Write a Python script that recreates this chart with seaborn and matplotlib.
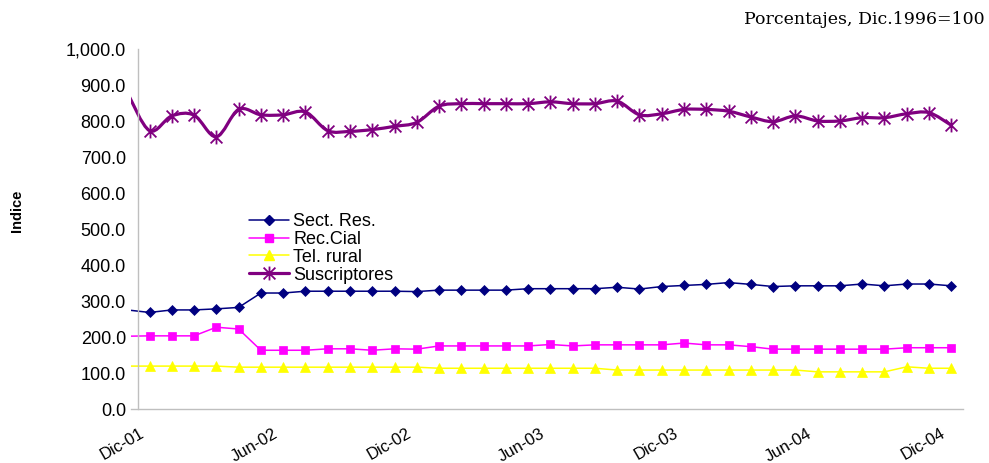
import numpy as np
import pandas as pd
import matplotlib
matplotlib.use("Agg")
import matplotlib.pyplot as plt
import matplotlib.transforms as mtransforms
from matplotlib.path import Path
from matplotlib.patches import PathPatch
from matplotlib.lines import Line2D
from matplotlib.ticker import FuncFormatter
import seaborn as sns

# Datos mensuales (indice, Dic.1996=100), primer valor = mes anterior a Dic-01
sect_res = [276, 269, 276, 276, 279, 283, 323, 323, 328, 328, 328, 328, 328, 327,
            331, 331, 331, 331, 335, 335, 335, 335, 339, 334, 341, 344,
            347, 352, 347, 341, 343, 343, 343, 348, 343, 348, 348, 343]
rec_cial = [203, 204, 204, 204, 228, 223, 164, 164, 164, 168, 168, 164, 168, 167,
            176, 176, 176, 176, 176, 180, 176, 179, 179, 179, 179, 184,
            179, 179, 174, 167, 167, 167, 167, 167, 167, 171, 171, 171]
tel_rural = [120, 120, 120, 120, 120, 117, 117, 117, 117, 117, 117, 117, 117, 117,
             114, 114, 114, 114, 114, 114, 114, 114, 109, 109, 109, 109,
             109, 109, 109, 109, 109, 104, 104, 104, 104, 118, 114, 114]
suscriptores = [880, 774, 815, 817, 757, 833, 818, 818, 826, 774, 772, 777, 786, 797,
                842, 849, 849, 849, 849, 854, 849, 849, 856, 818, 821, 833,
                833, 828, 812, 799, 815, 801, 801, 810, 810, 821, 824, 789]

# meses desde Dic-01 (centro del mes)
mes = np.arange(len(sect_res)) - 0.5
etiquetas_x = ["Dic-01", "Jun-02", "Dic-02", "Jun-03", "Dic-03", "Jun-04", "Dic-04"]
pos_x = [0, 6, 12, 18, 24, 30, 36]

df = pd.DataFrame({"mes": mes, "Sect. Res.": sect_res, "Rec.Cial": rec_cial,
                   "Tel. rural": tel_rural, "Suscriptores": suscriptores})

sns.set_style("white")
plt.rcParams['font.family'] = ['Liberation Sans', 'DejaVu Sans']
plt.rcParams['text.color'] = 'black'

fig = plt.figure(figsize=(9.89, 4.63), dpi=100)
ax = fig.add_axes([0.1325, 0.116, 0.8413, 0.7775])

# marcador tipo asterisco (estilo Excel)
estrella = Path([(0, -1), (0, 1), (-0.85, -0.85), (0.85, 0.85), (-0.85, 0.85), (0.85, -0.85)],
                [Path.MOVETO, Path.LINETO, Path.MOVETO, Path.LINETO, Path.MOVETO, Path.LINETO])

# el primer punto (Nov-01) queda fuera del area, sin marcador
cada = slice(1, None)
sns.lineplot(data=df, x="mes", y="Sect. Res.", ax=ax, color="#000080", lw=1.1,
             marker="D", markersize=5.4, markeredgewidth=0.5, markeredgecolor="#000080",
             markevery=cada)
sns.lineplot(data=df, x="mes", y="Rec.Cial", ax=ax, color="#FF00FF", lw=1.1,
             marker="s", markersize=5.8, markeredgewidth=0.5, markeredgecolor="#FF00FF",
             markevery=cada)
sns.lineplot(data=df, x="mes", y="Tel. rural", ax=ax, color="#FFFF00", lw=1.1,
             marker="^", markersize=7, markeredgewidth=0.5, markeredgecolor="#FFFF00",
             markevery=cada)
sns.lineplot(data=df, x="mes", y="Suscriptores", ax=ax, color="#800080", lw=0,
             marker=estrella, markersize=10, markeredgewidth=1.3,
             markeredgecolor="#800080", markerfacecolor="none", markevery=cada)

# linea suavizada para Suscriptores (Catmull-Rom -> Bezier)
px = df["mes"].to_numpy()
py = df["Suscriptores"].to_numpy(dtype=float)
verts = [(px[0], py[0])]
codes = [Path.MOVETO]
n = len(px)
for i in range(n - 1):
    i0 = max(i - 1, 0)
    i3 = min(i + 2, n - 1)
    c1 = (px[i] + (px[i + 1] - px[i0]) / 6, py[i] + (py[i + 1] - py[i0]) / 6)
    c2 = (px[i + 1] - (px[i3] - px[i]) / 6, py[i + 1] - (py[i3] - py[i]) / 6)
    verts += [c1, c2, (px[i + 1], py[i + 1])]
    codes += [Path.CURVE4] * 3
ax.add_patch(PathPatch(Path(verts, codes), facecolor="none", edgecolor="#800080",
                       lw=2.3, transform=ax.transData, zorder=2))

ax.set_xlim(-0.33, 37.03)
ax.set_ylim(0, 1000)
ax.set_yticks(np.arange(0, 1001, 100))
ax.yaxis.set_major_formatter(FuncFormatter(lambda v, p: f"{v:,.1f}"))
ax.set_xticks(pos_x)

for s in ["top", "right"]:
    ax.spines[s].set_visible(False)
ax.spines["left"].set_position(("data", 0))
for s in ["left", "bottom"]:
    ax.spines[s].set_color("#bfbfbf")
    ax.spines[s].set_linewidth(1.0)
ax.tick_params(axis="both", which="major", direction="out", length=3,
               color="#bfbfbf", width=1.0, labelcolor="black")
ax.tick_params(axis="y", labelsize=13, pad=6)
ax.tick_params(axis="x", pad=9)
ax.set_xticklabels(etiquetas_x, rotation=30, ha="right", fontsize=12)
off = mtransforms.ScaledTranslation(8 / 100, 0, fig.dpi_scale_trans)
for t in ax.get_xticklabels():
    t.set_transform(t.get_transform() + off)
ax.set_xlabel("")
ax.set_ylabel("")
ax.grid(False)

fig.text(17.5 / 989, 1 - 211 / 463, "Indice", rotation=90, ha="center", va="center",
         fontsize=10.5, fontweight="bold", color="black")
fig.text(985 / 989, 1 - 20 / 463, "Porcentajes, Dic.1996=100", ha="right", va="center",
         fontsize=12.5, family="DejaVu Serif", color="black")

handles = [
    Line2D([], [], color="#000080", lw=1.1, marker="D", markersize=5.4),
    Line2D([], [], color="#FF00FF", lw=1.1, marker="s", markersize=5.8),
    Line2D([], [], color="#FFFF00", lw=1.1, marker="^", markersize=7),
    Line2D([], [], color="#800080", lw=2.3, marker=estrella, markersize=10,
           markeredgewidth=1.3, markerfacecolor="none"),
]
ax.legend(handles, ["Sect. Res.", "Rec.Cial", "Tel. rural", "Suscriptores"],
          loc="upper left", bbox_to_anchor=(249 / 989, 1 - 213 / 463),
          bbox_transform=fig.transFigure, frameon=False, fontsize=13,
          handlelength=2.2, handletextpad=0.25, labelspacing=0.05,
          borderpad=0, borderaxespad=0, labelcolor="black")

fig.savefig("out.png", dpi=100)
